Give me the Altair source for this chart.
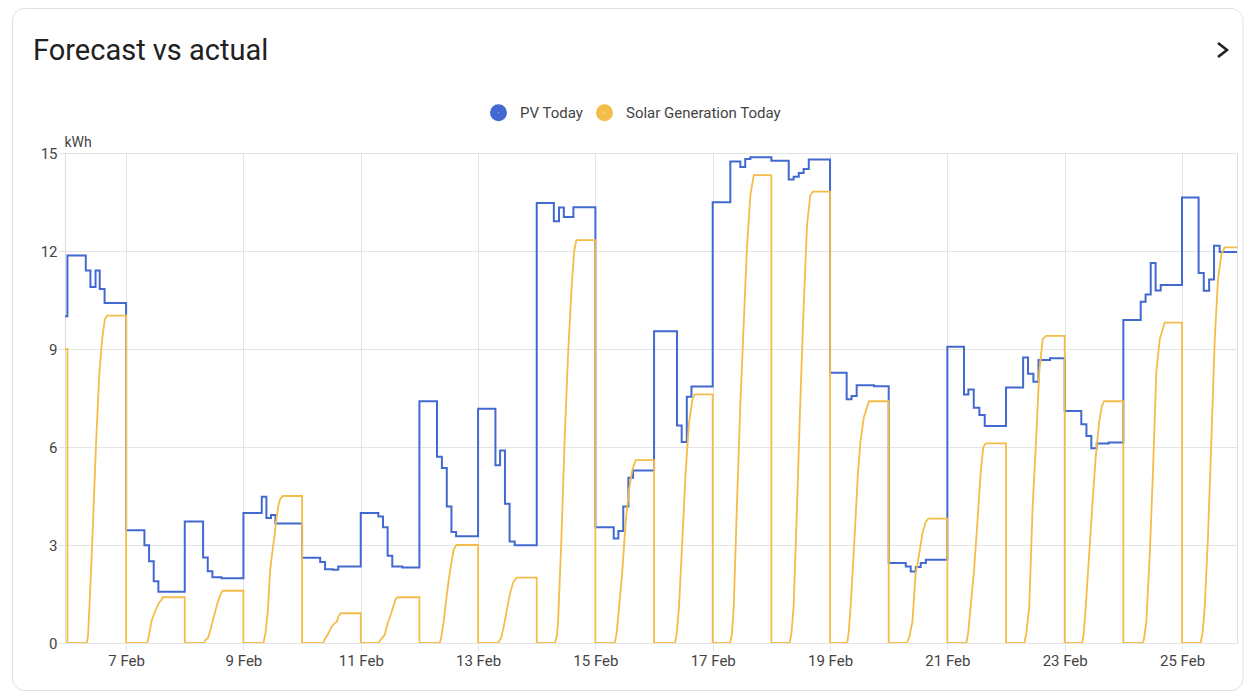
import altair as alt
import pandas as pd

YEAR, MONTH = 2025, 2
SERIES = ["PV Today", "Solar Generation Today"]
COLORS = ["#4269d0", "#f4bd4a"]

# PV Today (forecast) - (hour of day, kWh) steps, per day of February
pv_05 = [(23.0, 10.00)]
pv_06 = [(0, 11.86), (7.5, 11.40), (9.4, 10.90), (11.5, 11.40), (13.2, 10.84), (15.2, 10.41)]
pv_07 = [(0, 3.45), (7.5, 2.99), (9.4, 2.50), (11.3, 1.89), (13.2, 1.57)]
pv_08 = [(0, 3.72), (7.5, 2.62), (9.4, 2.20), (11.3, 2.01), (15.0, 1.98)]
pv_09 = [(0, 3.98), (7.5, 4.48), (9.4, 3.83), (11.3, 3.92), (13.1, 3.66)]
pv_10 = [(0, 2.61), (7.4, 2.48), (9.4, 2.26), (12.5, 2.24), (14.8, 2.34)]
pv_11 = [(0, 3.98), (7.2, 3.87), (9.1, 3.54), (11.0, 2.67), (12.9, 2.34), (17.0, 2.31)]
pv_12 = [(0, 7.40), (7.2, 5.70), (9.2, 5.36), (11.2, 4.18), (13.1, 3.40), (15.0, 3.27)]
pv_13 = [(0, 7.17), (7.1, 5.44), (9.0, 5.89), (11.0, 4.26), (12.9, 3.11), (15.0, 2.99)]
pv_14 = [(0, 13.47), (7.0, 12.91), (9.1, 13.33), (11.1, 13.04), (15.0, 13.34)]
pv_15 = [(0, 3.54), (7.5, 3.20), (9.4, 3.43), (11.4, 4.18), (13.5, 5.06), (15.4, 5.28)]
pv_16 = [(0, 9.54), (9.4, 6.66), (11.3, 6.15), (13.4, 7.54), (15.3, 7.85)]
pv_17 = [(0, 13.49), (7.2, 14.74), (11.3, 14.57), (13.3, 14.82), (15.4, 14.87)]
pv_18 = [(0, 14.76), (7.1, 14.19), (9.1, 14.27), (11.2, 14.39), (13.2, 14.51), (15.3, 14.80)]
pv_19 = [(0, 8.27), (6.8, 7.46), (8.8, 7.56), (10.9, 7.89), (18.0, 7.86)]
pv_20 = [(0, 2.45), (7.0, 2.34), (9.0, 2.19), (11.1, 2.33), (13.1, 2.45), (15.2, 2.55)]
pv_21 = [(0, 9.07), (6.8, 7.61), (8.6, 7.76), (10.8, 7.20), (13.1, 6.98), (15.3, 6.64)]
pv_22 = [(0, 7.82), (7.0, 8.74), (9.0, 8.24), (11.2, 8.00), (13.3, 8.66), (18.0, 8.72)]
pv_23 = [(0, 7.10), (6.8, 6.70), (8.9, 6.34), (10.9, 5.96), (13.1, 6.11), (18.0, 6.14)]
pv_24 = [(0, 9.89), (7.1, 10.45), (9.1, 10.67), (11.2, 11.63), (13.2, 10.79), (15.3, 10.96)]
pv_25 = [(0, 13.64), (6.8, 11.33), (8.9, 10.78), (11.1, 11.13), (13.1, 12.16), (15.4, 11.97), (22.5, 11.97)]

# Solar Generation Today (actual, cumulative) - (hour of day, kWh) per day
gen_05 = [(23.0, 9.00)]
gen_06 = [(0, 0), (7.9, 0), (8.4, 0.2), (9.0, 1.1), (10.2, 3.2), (11.7, 6.1), (13.0, 8.2), (14.2, 9.3), (15.3, 9.9), (16.2, 10.02)]
gen_07 = [(0, 0), (8.7, 0), (9.5, 0.3), (10.5, 0.7), (12.0, 1.0), (13.6, 1.25), (14.3, 1.3), (15.0, 1.40)]
gen_08 = [(0, 0), (7.9, 0), (8.5, 0.1), (9.5, 0.15), (10.5, 0.4), (11.7, 0.75), (13.1, 1.15), (14.4, 1.45), (15.5, 1.60)]
gen_09 = [(0, 0), (8.2, 0), (9.0, 0.3), (10.0, 1.0), (10.9, 2.2), (12.0, 2.9), (12.6, 3.2), (13.5, 3.8), (14.3, 4.2), (15.0, 4.4), (16.1, 4.50)]
gen_10 = [(0, 0), (8.7, 0), (9.2, 0.1), (10.8, 0.3), (12.1, 0.5), (13.3, 0.6), (14.2, 0.65), (14.8, 0.8), (15.8, 0.91)]
gen_11 = [(0, 0), (7.2, 0), (8.4, 0.12), (9.8, 0.25), (11.1, 0.63), (12.2, 0.85), (13.2, 1.09), (14.3, 1.35), (15.2, 1.40)]
gen_12 = [(0, 0), (8.3, 0), (9.0, 0.2), (10.0, 0.7), (11.0, 1.35), (12.0, 1.95), (13.1, 2.47), (14.0, 2.85), (15.1, 3.00)]
gen_13 = [(0, 0), (8.2, 0), (9.5, 0.17), (10.5, 0.5), (11.6, 0.94), (12.9, 1.45), (14.3, 1.85), (15.7, 2.00)]
gen_14 = [(0, 0), (7.4, 0), (8.2, 0.2), (8.7, 0.6), (10.1, 3.2), (11.4, 6.2), (12.8, 8.8), (14.2, 10.8), (15.3, 12.0), (16.2, 12.33)]
gen_15 = [(0, 0), (7.9, 0), (8.7, 0.3), (9.7, 1.1), (11.0, 2.2), (12.4, 3.7), (13.8, 4.7), (15.1, 5.3), (16.5, 5.60)]
gen_16 = [(0, 0), (8.6, 0), (9.3, 0.3), (10.2, 1.1), (11.6, 3.2), (12.9, 5.2), (14.3, 6.75), (15.7, 7.45), (16.6, 7.61)]
gen_17 = [(0, 0), (7.2, 0), (7.9, 0.3), (8.6, 1.1), (9.9, 4.2), (11.3, 7.3), (12.7, 9.8), (14.0, 12.1), (15.4, 13.7), (16.8, 14.32)]
gen_18 = [(0, 0), (7.5, 0), (8.2, 0.3), (9.1, 1.1), (10.5, 4.2), (11.8, 7.3), (13.2, 10.3), (14.6, 12.8), (15.9, 13.7), (17.0, 13.82)]
gen_19 = [(0, 0), (7.0, 0), (7.6, 0.3), (8.5, 1.2), (10.0, 3.2), (11.4, 5.2), (12.5, 6.2), (13.8, 6.9), (15.9, 7.40)]
gen_20 = [(0, 0), (7.4, 0), (8.5, 0.2), (9.7, 0.65), (11.0, 2.1), (12.4, 2.7), (13.8, 3.35), (15.1, 3.7), (16.2, 3.81)]
gen_21 = [(0, 0), (7.8, 0), (8.5, 0.3), (9.5, 1.1), (10.9, 2.2), (12.3, 3.7), (13.6, 5.2), (14.7, 6.0), (15.7, 6.11)]
gen_22 = [(0, 0), (7.5, 0), (8.3, 0.3), (9.5, 1.1), (10.9, 4.2), (12.3, 6.2), (13.6, 8.3), (15.0, 9.3), (16.4, 9.40)]
gen_23 = [(0, 0), (7.2, 0), (7.8, 0.3), (8.6, 1.1), (10.0, 2.7), (11.3, 4.2), (12.7, 5.7), (14.1, 6.75), (15.2, 7.25), (16.1, 7.40)]
gen_24 = [(0, 0), (8.0, 0), (8.6, 0.2), (9.4, 0.65), (10.8, 2.7), (12.1, 5.2), (13.5, 8.3), (14.9, 9.3), (16.9, 9.81)]
gen_25 = [(0, 0), (7.6, 0), (8.4, 0.3), (9.3, 1.1), (10.6, 3.2), (12.0, 6.2), (13.4, 9.3), (14.7, 11.1), (16.1, 11.9), (17.5, 12.11), (22.5, 12.11)]

pv_days = [(5, pv_05), (6, pv_06), (7, pv_07), (8, pv_08), (9, pv_09), (10, pv_10),
           (11, pv_11), (12, pv_12), (13, pv_13), (14, pv_14), (15, pv_15), (16, pv_16),
           (17, pv_17), (18, pv_18), (19, pv_19), (20, pv_20), (21, pv_21), (22, pv_22),
           (23, pv_23), (24, pv_24), (25, pv_25)]
gen_days = [(5, gen_05), (6, gen_06), (7, gen_07), (8, gen_08), (9, gen_09), (10, gen_10),
            (11, gen_11), (12, gen_12), (13, gen_13), (14, gen_14), (15, gen_15), (16, gen_16),
            (17, gen_17), (18, gen_18), (19, gen_19), (20, gen_20), (21, gen_21), (22, gen_22),
            (23, gen_23), (24, gen_24), (25, gen_25)]


def ts(day, hour):
    return pd.Timestamp(YEAR, MONTH, 1) + pd.Timedelta(days=day - 1, hours=hour)


pv_rows = []
for d, pts in pv_days:
    for h, v in pts:
        pv_rows.append({"t": ts(d, h), "kwh": v, "series": SERIES[0]})
pv_df = pd.DataFrame(pv_rows)

gen_rows = []
for d, pts in gen_days:
    for h, v in pts:
        gen_rows.append({"t": ts(d, h), "kwh": v, "series": SERIES[1]})
    if d < 25:
        # daily total is held until midnight, where the counter resets
        gen_rows.append({"t": ts(d + 1, 0), "kwh": pts[-1][1], "series": SERIES[1]})
gen_df = pd.DataFrame(gen_rows)
gen_df["idx"] = range(len(gen_df))

FONT = "Roboto"
GRID = "#e4e4e4"
TEXT = "#444444"

x_scale = alt.Scale(domain=[alt.DateTime(year=YEAR, month=MONTH, date=5, hours=23),
                            alt.DateTime(year=YEAR, month=MONTH, date=25, hours=22, minutes=30)])
x_axis = alt.Axis(title=None,
                  values=[alt.DateTime(year=YEAR, month=MONTH, date=d) for d in range(7, 26, 2)],
                  format="%-d %b", grid=True, gridColor=GRID, tickColor=GRID, tickSize=7,
                  domain=False, labelFont=FONT, labelFontSize=15, labelColor=TEXT, labelPadding=3)
y_scale = alt.Scale(domain=[0, 15], nice=False)
y_axis = alt.Axis(values=[0, 3, 6, 9, 12, 15], title="kWh", titleAngle=0, titleX=-1, titleY=-7,
                  titleAlign="left", titleBaseline="alphabetic", titleFontWeight="normal",
                  titleFontSize=14, titleFont=FONT, titleColor=TEXT,
                  grid=True, gridColor=GRID, tickColor=GRID, tickSize=7, domain=False,
                  labelFont=FONT, labelFontSize=15, labelColor=TEXT, labelPadding=1)
color = alt.Color("series:N", scale=alt.Scale(domain=SERIES, range=COLORS),
                  legend=alt.Legend(title=None, orient="none", legendX=425, legendY=-49,
                                    direction="horizontal", symbolType="circle", symbolSize=64,
                                    symbolStrokeWidth=9, labelFont=FONT, labelFontSize=15,
                                    labelColor=TEXT, labelOffset=13, columnPadding=-2, padding=0))

card = alt.Chart(pd.DataFrame({"k": [0]})).mark_rect(
    filled=False, stroke="#e0e0e0", strokeWidth=1, cornerRadius=12
).encode(x=alt.value(-52.5), x2=alt.value(1178), y=alt.value(-144.5), y2=alt.value(537.5))

chevron = alt.Chart(pd.DataFrame({"k": [0]})).mark_point(
    shape="M-0.32,-0.5L0.32,0L-0.32,0.5", size=784, filled=False, stroke="#212121",
    strokeWidth=2.6, opacity=1
).encode(x=alt.value(1157.5), y=alt.value(-103))

pv_line = alt.Chart(pv_df).mark_line(interpolate="step-after", strokeWidth=2, clip=True).encode(
    x=alt.X("t:T", scale=x_scale, axis=x_axis),
    y=alt.Y("kwh:Q", scale=y_scale, axis=y_axis),
    color=color,
)

gen_line = alt.Chart(gen_df).mark_line(strokeWidth=1.8, clip=True).encode(
    x=alt.X("t:T", scale=x_scale, axis=x_axis),
    y=alt.Y("kwh:Q", scale=y_scale, axis=y_axis),
    color=color,
    order=alt.Order("idx:Q"),
)

chart = alt.layer(card, pv_line, gen_line, chevron).properties(
    width=1172, height=490,
    padding={"left": 57, "top": 145, "right": 9, "bottom": 50},
    autosize=alt.AutoSizeParams(type="none"),
    title=alt.TitleParams(text="Forecast vs actual", anchor="start", frame="group",
                          fontSize=29, font=FONT, fontWeight="normal", color="#212121",
                          baseline="alphabetic", dx=-32, dy=81, offset=0),
).configure_view(stroke=GRID).configure(background="white")

chart.save("out.html", embed_options={"renderer": "svg", "actions": False})
